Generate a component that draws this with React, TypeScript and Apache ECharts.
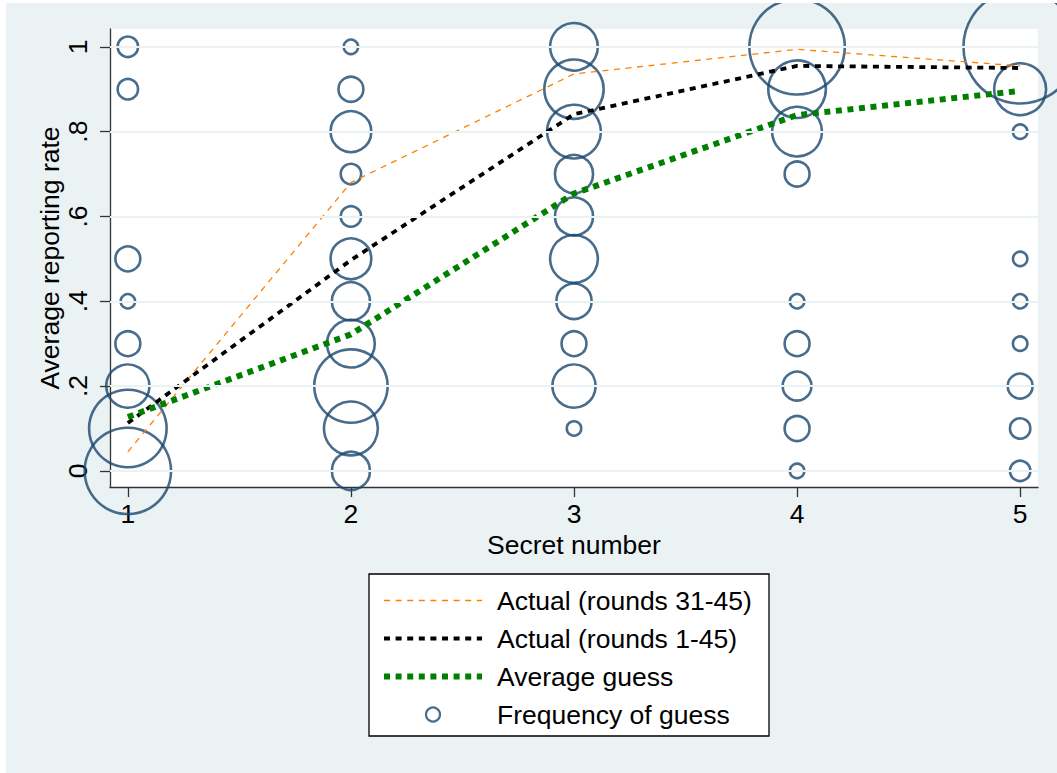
import React, { useEffect, useRef } from "react";
import * as echarts from "echarts";

// ---- data ----
const secretNumbers = [1, 2, 3, 4, 5];
const actualLate = [0.045, 0.68, 0.936, 0.994, 0.955]; // Actual (rounds 31-45)
const actualAll = [0.113, 0.497, 0.841, 0.955, 0.95]; // Actual (rounds 1-45)
const avgGuess = [0.127, 0.322, 0.654, 0.839, 0.896]; // Average guess

const guessLevels = [0, 0.1, 0.2, 0.3, 0.4, 0.5, 0.6, 0.7, 0.8, 0.9, 1];
// frequency of each guess level, per secret number
const freqSecret1 = [36, 29, 9, 3, 1, 3, 0, 0, 0, 2, 2];
const freqSecret2 = [7, 14, 26, 11, 7, 8, 2, 2, 8, 3, 1];
const freqSecret3 = [0, 1, 9, 3, 6, 11, 7, 7, 14, 17, 11];
const freqSecret4 = [1, 3, 4, 3, 1, 0, 0, 3, 12, 16, 44];
const freqSecret5 = [2, 2, 3, 1, 1, 1, 0, 0, 1, 13, 62];

const xTickValues = [1, 2, 3, 4, 5];
const yTickValues = [0, 0.2, 0.4, 0.6, 0.8, 1];

const seriesNames = [
  "Actual (rounds 31-45)",
  "Actual (rounds 1-45)",
  "Average guess",
  "Frequency of guess",
];

const FONT = "'Liberation Sans', Arial, Helvetica, sans-serif";
const FS = 26.5;
const NAVY = "#1A476F";
const BG = "#EAF2F3";
const ORANGE = "#FF8000";
const GREEN = "#008000";

export default function App() {
  const ref = useRef<HTMLDivElement>(null);

  useEffect(() => {
    if (!ref.current) return;
    const chart = echarts.init(ref.current, undefined, { renderer: "svg" });

    const freqs = [freqSecret1, freqSecret2, freqSecret3, freqSecret4, freqSecret5];
    const bubbles: number[][] = [];
    secretNumbers.forEach((s, i) => {
      guessLevels.forEach((lv, j) => {
        const f = freqs[i][j];
        if (f > 0) bubbles.push([s, lv, f]);
      });
    });

    const toPts = (arr: number[]) => secretNumbers.map((x, i) => [x, arr[i]]);
    const dash = [6, 5.6];
    const lines = [
      { color: ORANGE, width: 1.3 },
      { color: "#000000", width: 3.8 },
      { color: GREEN, width: 6 },
    ];
    const hiddenSymbol = { color: "rgba(0,0,0,0)", borderWidth: 0, opacity: 0 };

    chart.setOption({
      animation: false,
      backgroundColor: BG,
      textStyle: { fontFamily: FONT },
      grid: {
        left: 110,
        top: 29,
        width: 928,
        height: 458,
        show: true,
        backgroundColor: "#ffffff",
        borderWidth: 0,
      },
      xAxis: {
        type: "value",
        min: 0.92,
        max: 5.08,
        name: "Secret number",
        nameLocation: "middle",
        nameGap: 44,
        nameMoveOverlap: false,
        nameTextStyle: { fontSize: FS, color: "#000", fontFamily: FONT },
        axisLine: { show: true, onZero: false, lineStyle: { color: "#333", width: 1.3 } },
        axisTick: {
          show: true,
          length: 10,
          customValues: xTickValues,
          lineStyle: { color: "#333", width: 1.3 },
        },
        axisLabel: {
          customValues: xTickValues,
          fontSize: FS,
          color: "#000",
          margin: 13,
          fontFamily: FONT,
        },
        splitLine: { show: false },
      },
      yAxis: {
        type: "value",
        min: -0.038,
        max: 1.042,
        name: "Average reporting rate",
        nameLocation: "middle",
        nameGap: 47,
        nameMoveOverlap: false,
        nameTextStyle: { fontSize: FS, color: "#000", fontFamily: FONT },
        axisLine: { show: true, onZero: false, lineStyle: { color: "#333", width: 1.3 } },
        axisTick: {
          show: true,
          length: 10,
          customValues: yTickValues,
          lineStyle: { color: "#333", width: 1.3 },
        },
        axisLabel: {
          customValues: yTickValues,
          rotate: 90,
          fontSize: FS,
          color: "#000",
          margin: 19,
          fontFamily: FONT,
          formatter: (v: number) => {
            const r = Math.round(v * 10) / 10;
            if (r === 0) return "0";
            if (r === 1) return "1";
            return String(r).replace(/^0\./, ".");
          },
        },
        splitLine: { show: false },
      },
      legend: {
        orient: "vertical",
        left: 381,
        top: 587,
        padding: 0,
        itemGap: 11,
        itemWidth: 98,
        itemHeight: 14,
        z: 20,
        data: [
          ...lines.map((l, i) => ({
            name: seriesNames[i],
            itemStyle: hiddenSymbol,
            lineStyle: { color: l.color, width: l.width, type: dash, cap: "butt" },
          })),
          {
            name: seriesNames[3],
            itemStyle: { color: "rgba(0,0,0,0)", borderColor: NAVY, borderWidth: 2.2 },
          },
        ],
        textStyle: {
          fontSize: FS,
          color: "#000",
          fontFamily: FONT,
          padding: [0, 0, 0, 10],
        },
      },
      graphic: [
        {
          type: "rect",
          z: 10,
          shape: { x: 369, y: 574, width: 400, height: 162 },
          style: { fill: "#ffffff", stroke: "#000", lineWidth: 1.3 },
          silent: true,
        },
        {
          type: "rect",
          z: 100,
          shape: { x: 0, y: 0, width: 1057, height: 3 },
          style: { fill: "#ffffff" },
          silent: true,
        },
        {
          type: "rect",
          z: 100,
          shape: { x: 0, y: 0, width: 6, height: 773 },
          style: { fill: "#ffffff" },
          silent: true,
        },
      ],
      series: [
        {
          name: "grid",
          type: "line",
          data: [],
          z: 1,
          silent: true,
          markLine: {
            silent: true,
            symbol: "none",
            label: { show: false },
            lineStyle: { color: BG, width: 2.2, type: "solid" },
            data: yTickValues.map((v) => ({ yAxis: v })),
          },
        },
        {
          name: seriesNames[3],
          type: "scatter",
          z: 2,
          clip: false,
          silent: true,
          data: bubbles,
          symbol: "circle",
          symbolSize: (v: number[]) => 14.4 * Math.sqrt(v[2]),
          itemStyle: { color: "rgba(0,0,0,0)", borderColor: NAVY, borderWidth: 2.6 },
        },
        ...lines.map((l, i) => ({
          name: seriesNames[i],
          type: "line",
          z: 3,
          silent: true,
          symbol: "none",
          data: toPts([actualLate, actualAll, avgGuess][i]),
          lineStyle: { color: l.color, width: l.width, type: dash, cap: "butt" },
          itemStyle: { color: l.color },
        })),
      ],
    });

    return () => chart.dispose();
  }, []);

  return (
    <div
      ref={ref}
      style={{ position: "absolute", left: 0, top: 0, width: 1057, height: 773 }}
    />
  );
}
